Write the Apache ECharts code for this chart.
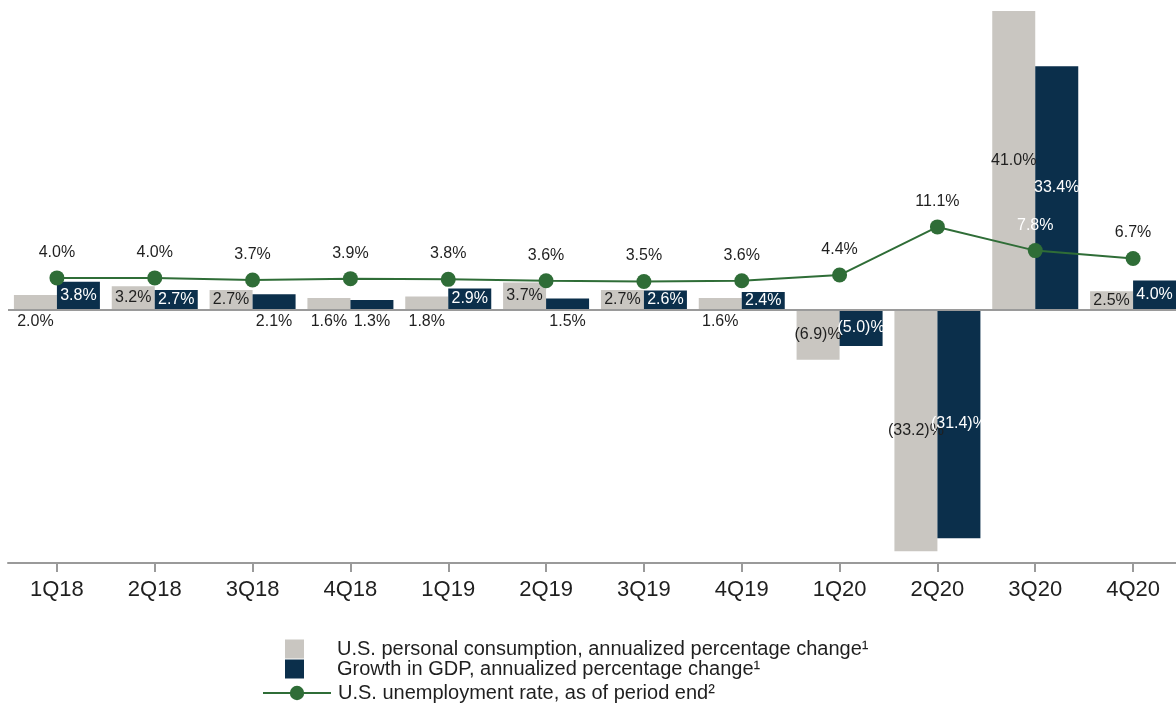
<!DOCTYPE html>
<html>
<head>
<meta charset="utf-8">
<script src="https://cdn.jsdelivr.net/npm/echarts@6/dist/echarts.min.js"></script>
<style>
html,body{margin:0;padding:0;background:#fff;}
#chart{width:1176px;height:704px;}
</style>
</head>
<body>
<div id="chart"></div>
<script>
const categories = ['1Q18','2Q18','3Q18','4Q18','1Q19','2Q19','3Q19','4Q19','1Q20','2Q20','3Q20','4Q20'];
const consumption = [2.0, 3.2, 2.7, 1.6, 1.8, 3.7, 2.7, 1.6, -6.9, -33.2, 41.0, 2.5];
const gdp = [3.8, 2.7, 2.1, 1.3, 2.9, 1.5, 2.6, 2.4, -5.0, -31.4, 33.4, 4.0];
const unemployment = [4.0, 4.0, 3.7, 3.9, 3.8, 3.6, 3.5, 3.6, 4.4, 11.1, 7.8, 6.7];
const seriesNames = [
  'U.S. personal consumption, annualized percentage change\u00b9',
  'Growth in GDP, annualized percentage change\u00b9',
  'U.S. unemployment rate, as of period end\u00b2'
];

const FONT = '"Liberation Sans", Arial, sans-serif';
const GREY = '#c9c6c1';
const NAVY = '#0b2f4b';
const GREEN = '#2f6d37';
const TEXT = '#1f1f1f';

function fmt(v){ return v < 0 ? '(' + Math.abs(v).toFixed(1) + ')%' : v.toFixed(1) + '%'; }

function barData(arr, insideColor){
  return arr.map(v => {
    const inside = v < 0 || v >= 2.3;
    return {
      value: v,
      label: {
        position: inside ? 'inside' : 'bottom',
        distance: 4,
        color: inside ? insideColor : TEXT
      }
    };
  });
}

const chart = echarts.init(document.getElementById('chart'));
chart.setOption({
  animation: false,
  textStyle: { fontFamily: FONT },
  grid: { left: 8, width: 1174, top: 0, bottom: 141, containLabel: false, outerBoundsMode: 'none' },
  legend: [
    {
      orient: 'vertical', left: 285, top: 639, padding: 0,
      itemWidth: 19, itemHeight: 19, itemGap: 0,
      icon: 'rect',
      data: [seriesNames[0], seriesNames[1]],
      textStyle: { fontFamily: FONT, fontSize: 20, color: TEXT, padding: [0,0,0,28] }
    },
    {
      orient: 'vertical', left: 262, top: 683, padding: 0,
      itemWidth: 68, itemHeight: 18, itemGap: 0,
      data: [seriesNames[2]],
      textStyle: { fontFamily: FONT, fontSize: 20, color: TEXT, padding: [0,0,0,2] }
    }
  ],
  xAxis: {
    type: 'category',
    data: categories,
    axisLine: { onZero: false, lineStyle: { color: '#9a9a9a', width: 2 } },
    axisTick: { show: true, alignWithLabel: true, length: 9, lineStyle: { color: '#9a9a9a', width: 2 } },
    axisLabel: { fontFamily: FONT, fontSize: 22, color: TEXT, margin: 16 }
  },
  yAxis: [
    { type: 'value', min: -34.8, max: 42.5, show: false, splitLine: { show: false } },
    { type: 'value', min: -35.7, max: 42.7, show: false, splitLine: { show: false } }
  ],
  series: [
    {
      name: seriesNames[0], type: 'bar', barWidth: 43, barGap: '0%',
      itemStyle: { color: GREY },
      data: barData(consumption, TEXT),
      label: { show: true, fontFamily: FONT, fontSize: 16, formatter: p => fmt(p.value) },
      markLine: {
        silent: true, symbol: 'none', label: { show: false },
        lineStyle: { color: '#9a9a9a', width: 2, type: 'solid' },
        data: [{ yAxis: 0 }]
      }
    },
    {
      name: seriesNames[1], type: 'bar', barWidth: 43, barGap: '0%',
      itemStyle: { color: NAVY },
      data: barData(gdp, '#ffffff'),
      label: { show: true, fontFamily: FONT, fontSize: 16, formatter: p => fmt(p.value) }
    },
    {
      name: seriesNames[2], type: 'line', yAxisIndex: 1,
      symbol: 'circle', symbolSize: 15,
      lineStyle: { color: GREEN, width: 2 },
      itemStyle: { color: GREEN },
      z: 5,
      data: unemployment.map((v, i) => ({
        value: v,
        label: { color: i === 10 ? '#ffffff' : TEXT }
      })),
      label: { show: true, position: 'top', distance: 10, fontFamily: FONT, fontSize: 16, formatter: p => fmt(p.value) }
    }
  ]
});
</script>
</body>
</html>
